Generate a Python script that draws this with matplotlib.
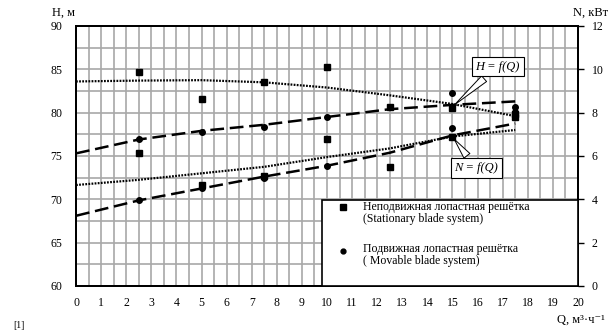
import matplotlib.pyplot as plt
from matplotlib.lines import Line2D
from matplotlib.patches import Rectangle

plt.rcParams['font.family'] = ['Liberation Serif', 'DejaVu Serif']

# head H (m) markers
q_h_stat = [2.5, 5, 7.5, 10, 12.5, 15, 17.5]
h_stat = [84.7, 81.6, 83.5, 85.3, 80.6, 80.5, 79.5]
q_h_mov = [2.5, 5, 7.5, 10, 15, 17.5]
h_mov = [77.0, 77.8, 78.4, 79.5, 82.3, 80.7]

# power N (kW) markers
q_n_stat = [2.5, 5, 7.5, 10, 12.5, 15, 17.5]
n_stat = [6.12, 4.68, 5.08, 6.8, 5.48, 6.88, 7.92]
q_n_mov = [2.5, 5, 7.5, 10, 15, 17.5]
n_mov = [3.96, 4.52, 5.0, 5.52, 7.28, 8.04]

# trend lines
q_trend = [0, 2.5, 5, 7.5, 10, 12.5, 15, 17.5]
h_stat_trend = [83.6, 83.7, 83.75, 83.5, 82.9, 82.0, 81.0, 79.6]
h_mov_trend = [75.3, 76.9, 77.9, 78.6, 79.5, 80.4, 80.9, 81.3]
n_stat_trend = [4.66, 4.9, 5.2, 5.5, 5.95, 6.35, 6.9, 7.2]
n_mov_trend = [3.24, 3.95, 4.5, 5.05, 5.55, 6.15, 6.95, 7.5]

fig = plt.figure(figsize=(6.16, 3.32), dpi=100)
ax = fig.add_axes([0.1234, 0.1386, 0.8149, 0.7831])
ax2 = ax.twinx()

ax.set_xlim(0, 20)
ax.set_ylim(60, 90)
ax2.set_ylim(0, 12)

# grid
for x in [i * 0.5 for i in range(1, 40)]:
    ax.axvline(x, color='#a8a8a8', lw=1.2, zorder=0)
for y in [60 + i * 2.5 for i in range(1, 12)]:
    ax.axhline(y, color='#a8a8a8', lw=1.2, zorder=0)

ax.set_xticks(range(0, 21))
ax.set_yticks(range(60, 91, 5))
ax2.set_yticks(range(0, 13, 2))
ax.tick_params(length=0, labelsize=8.5, pad=8)
ax.tick_params(axis='y', pad=10)
ax2.tick_params(axis='y', length=4, width=1, labelsize=8.5, pad=6)
for a in (ax, ax2):
    for s in a.spines.values():
        s.set_linewidth(1.4)

ls_dash = (0, (5.5, 2.3))
ls_dot = (0, (0.8, 0.6))

ax.plot(q_trend, h_stat_trend, color='black', lw=1.6, linestyle=ls_dot, zorder=3)
ax.plot(q_trend, h_mov_trend, color='black', lw=1.8, linestyle=ls_dash, zorder=3)
ax2.plot(q_trend, n_stat_trend, color='black', lw=1.6, linestyle=ls_dot, zorder=3)
ax2.plot(q_trend, n_mov_trend, color='black', lw=1.8, linestyle=ls_dash, zorder=3)

ax.plot(q_h_stat, h_stat, 's', color='black', ms=4.5, zorder=4)
ax.plot(q_h_mov, h_mov, 'o', color='black', ms=4, zorder=4)
ax2.plot(q_n_stat, n_stat, 's', color='black', ms=4.5, zorder=4)
ax2.plot(q_n_mov, n_mov, 'o', color='black', ms=4, zorder=4)

# callouts
box = dict(boxstyle='square,pad=0.3', fc='white', ec='black', lw=0.8)
wedge = dict(arrowstyle='wedge,tail_width=0.6', fc='white', ec='black', lw=0.7)
ax.annotate('H = f(Q)', xy=(15, 80.7), xytext=(16.8, 85.3),
            ha='center', va='center', fontsize=9, fontstyle='italic',
            bbox=box, arrowprops=wedge, zorder=6)
ax.annotate('N = f(Q)', xy=(15, 77.2), xytext=(15.95, 73.6),
            ha='center', va='center', fontsize=9, fontstyle='italic',
            bbox=box, arrowprops=wedge, zorder=6)

# legend box
ax2.add_patch(Rectangle((0.49, 0.0), 0.51, 0.331, transform=ax2.transAxes,
                        fc='white', ec='black', lw=1.2, zorder=7, clip_on=False))
ax2.add_line(Line2D([0.532], [0.305], marker='s', color='black', ms=4.5,
                    transform=ax2.transAxes, zorder=8))
ax2.add_line(Line2D([0.532], [0.135], marker='o', color='black', ms=3.5,
                    transform=ax2.transAxes, zorder=8))
leg_txt = [
    (0.302, 'Неподвижная лопастная решётка'),
    (0.258, '(Stationary blade system)'),
    (0.141, 'Подвижная лопастная решётка'),
    (0.097, '( Movable blade system)'),
]
for y, t in leg_txt:
    ax2.text(0.572, y, t, transform=ax2.transAxes, fontsize=8.5,
             va='center', ha='left', zorder=8)

fig.text(0.085, 0.962, 'H, м', fontsize=9, ha='left', va='center')
fig.text(0.987, 0.962, 'N, кВт', fontsize=9, ha='right', va='center')
fig.text(0.982, 0.036, 'Q, м³·ч⁻¹', fontsize=9, ha='right', va='center')
fig.text(0.022, 0.006, '[1]', fontsize=7, ha='left', va='bottom')

fig.savefig('out.png', dpi=100)
